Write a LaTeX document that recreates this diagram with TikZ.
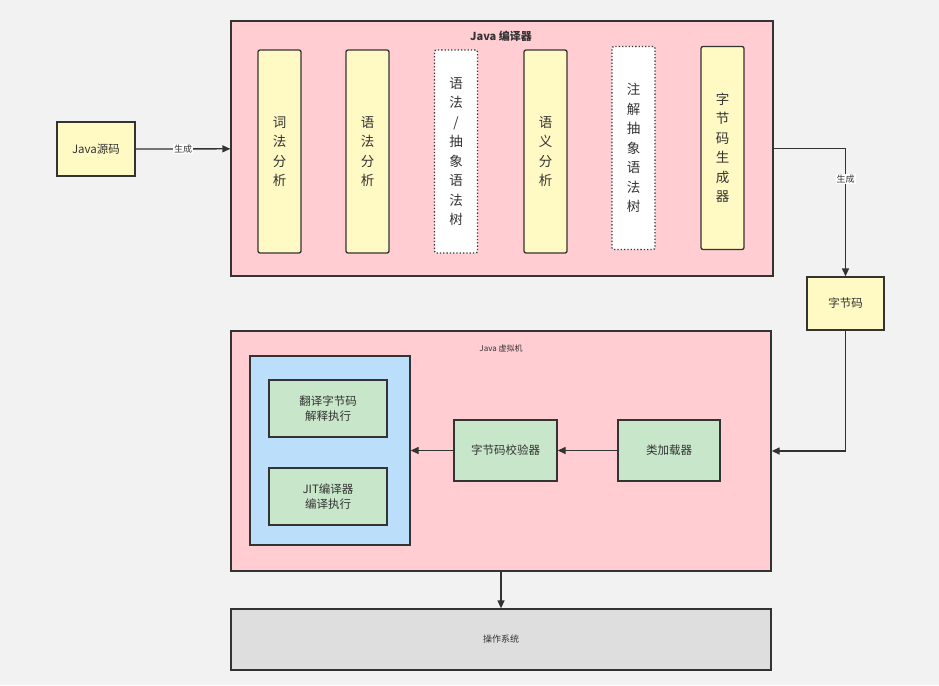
\documentclass[tikz,border=0pt]{standalone}
\usepackage{fontspec}
\newfontfamily\cjk{Noto Sans CJK SC}
\usetikzlibrary{arrows.meta,positioning,fit}
\definecolor{bg}{HTML}{F2F2F2}
\definecolor{ink}{HTML}{333333}
\definecolor{pink}{HTML}{FFCDD2}
\definecolor{lemon}{HTML}{FFF9C4}
\definecolor{sky}{HTML}{BBDEFB}
\definecolor{mint}{HTML}{C8E6C9}
\definecolor{stone}{HTML}{DEDEDE}
\tikzset{box/.style={draw=ink,line width=1.3pt,fill=lemon,align=center,inner sep=0pt,text=ink,font=\cjk\fontsize{11.5}{14.5}\selectfont},
stage/.style={box,rounded corners=2pt,minimum width=43pt,minimum height=203pt,font=\cjk\fontsize{13.5}{19.5}\selectfont},
tree/.style={stage,fill=white,dotted},
frame/.style={draw=ink,line width=1.3pt,fill=pink,inner sep=0pt},
arr/.style={-{Triangle[length=8pt,width=7pt]},line width=1.3pt,ink},
tag/.style={fill=white,inner sep=1pt,text=ink,font=\cjk\fontsize{9}{10}\selectfont}}

\begin{document}
\begin{tikzpicture}[x=1pt,y=-1pt]
\useasboundingbox[fill=bg] (0,0) rectangle (939,685);
% compiler
\node[frame,minimum width=542pt,minimum height=255pt] (comp) at (502,148.5) {};
\node[text=ink,font=\cjk\bfseries\fontsize{11}{13}\selectfont] (comptitle) at (501,36) {Java 编译器};
\node[stage] (lex) at (279.5,151.5) {词\\法\\分\\析};
\node[stage] (parse) at (367.5,151.5) {语\\法\\分\\析};
\node[tree] (ast) at (456,151.5) {语\\法\\/\\抽\\象\\语\\法\\树};
\node[stage] (sem) at (545.5,151.5) {语\\义\\分\\析};
\node[tree] (annot) at (633.5,148) {注\\解\\抽\\象\\语\\法\\树};
\node[stage] (gen) at (722.5,148) {字\\节\\码\\生\\成\\器};
% source and bytecode
\node[box,minimum width=78pt,minimum height=54pt] (src) at (96,149) {Java源码};
\node[box,minimum width=77pt,minimum height=53pt] (bc) at (845.5,303.5) {字节码};
% jvm
\node[frame,minimum width=540pt,minimum height=240pt] (jvm) at (501,451) {};
\node[text=ink,font=\cjk\fontsize{8}{10}\selectfont] (jvmtitle) at (501,348) {Java 虚拟机};
\node[box,fill=sky,minimum width=160pt,minimum height=189pt] (exec) at (330,450.5) {};
\node[box,fill=mint,minimum width=118pt,minimum height=57pt] (interp) at (328,408.5) {翻译字节码\\解释执行};
\node[box,fill=mint,minimum width=118pt,minimum height=57pt] (jit) at (328,496.5) {JIT编译器\\编译执行};
\node[box,fill=mint,minimum width=103pt,minimum height=61pt] (verify) at (505.5,450.5) {字节码校验器};
\node[box,fill=mint,minimum width=102pt,minimum height=61pt] (loader) at (669,450.5) {类加载器};
% os
\node[box,fill=stone,minimum width=540pt,minimum height=61pt,font=\cjk\fontsize{9}{11}\selectfont] (os) at (501,639.5) {操作系统};
% connectors
\draw[arr] (src) -- node[tag] {生成} (comp);
\draw[arr] (comp.east) -| node[tag,pos=0.62] {生成} (bc.north);
\draw[arr] (bc.south) |- (jvm.east);
\draw[arr] (loader) -- (verify);
\draw[arr] (verify) -- (exec);
\draw[arr] (jvm) -- (os);
\end{tikzpicture}
\end{document}
